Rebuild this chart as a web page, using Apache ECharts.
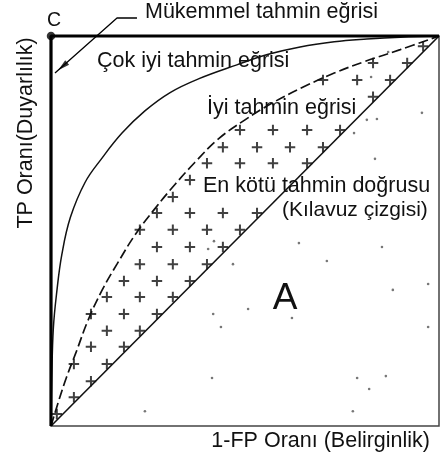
<!DOCTYPE html>
<html>
<head>
<meta charset="utf-8">
<script src="https://cdn.jsdelivr.net/npm/echarts@6/dist/echarts.min.js"></script>
<style>
  html, body { margin: 0; padding: 0; background: #fff; }
  #chart { width: 441px; height: 460px; }
</style>
</head>
<body>
<div id="chart"></div>
<script>
// ROC space: x = 1-FP rate, y = TP rate, both from 0 to 1.
const perfectCurve = [[0, 0], [0, 1], [1, 1]];
const chanceLine = [[0, 0], [1, 1]];

const veryGoodCurve = [
  [0, 0], [0.002, 0.12], [0.006, 0.25], [0.015, 0.345], [0.028, 0.44],
  [0.05, 0.535], [0.088, 0.625], [0.13, 0.685], [0.183, 0.751], [0.242, 0.808],
  [0.307, 0.855], [0.38, 0.89], [0.479, 0.926], [0.56, 0.953], [0.642, 0.972],
  [0.73, 0.985], [0.814, 0.992], [0.9, 0.997], [1, 1]
];

const goodCurve = [
  [0, 0], [0.02, 0.065], [0.04, 0.125], [0.065, 0.19], [0.095, 0.27],
  [0.13, 0.345], [0.17, 0.415], [0.22, 0.495], [0.27, 0.56], [0.32, 0.62],
  [0.37, 0.675], [0.43, 0.735], [0.5, 0.785], [0.57, 0.828], [0.65, 0.869],
  [0.73, 0.905], [0.81, 0.935], [0.9, 0.965], [1, 1]
];

// "+" marks filling the band between the good curve and the chance line
const plusMarks = [
  [0.959, 0.974],
  [0.830, 0.931], [0.918, 0.931],
  [0.701, 0.887], [0.789, 0.887], [0.874, 0.887],
  [0.830, 0.844],
  [0.487, 0.759], [0.572, 0.759], [0.660, 0.759], [0.745, 0.759],
  [0.443, 0.715], [0.531, 0.715], [0.616, 0.715], [0.701, 0.715],
  [0.402, 0.674], [0.487, 0.674], [0.572, 0.674], [0.660, 0.674],
  [0.358, 0.631],
  [0.314, 0.587],
  [0.273, 0.546], [0.358, 0.546], [0.443, 0.546], [0.531, 0.546],
  [0.229, 0.503], [0.314, 0.503], [0.402, 0.503], [0.487, 0.503],
  [0.273, 0.459], [0.358, 0.459], [0.443, 0.459],
  [0.229, 0.415], [0.314, 0.415], [0.402, 0.415],
  [0.188, 0.372], [0.273, 0.372], [0.358, 0.372],
  [0.144, 0.331], [0.229, 0.331], [0.314, 0.331],
  [0.103, 0.287], [0.188, 0.287], [0.273, 0.287],
  [0.144, 0.244], [0.229, 0.244],
  [0.103, 0.203], [0.188, 0.203],
  [0.059, 0.159], [0.144, 0.159],
  [0.103, 0.115],
  [0.059, 0.074],
  [0.015, 0.031]
];

// scattered specks
const specks = [
  [0.869, 0.959], [0.825, 0.895], [0.956, 0.803], [0.814, 0.785], [0.840, 0.787],
  [0.781, 0.751], [0.835, 0.685], [0.420, 0.474], [0.405, 0.454], [0.639, 0.469],
  [0.853, 0.459], [0.469, 0.415], [0.711, 0.423], [0.881, 0.349], [0.972, 0.364],
  [0.418, 0.287], [0.508, 0.300], [0.621, 0.277], [0.438, 0.254], [0.972, 0.254],
  [0.415, 0.123], [0.789, 0.123], [0.863, 0.128], [0.820, 0.095], [0.242, 0.038],
  [0.778, 0.038]
];

// leader line from the "Mükemmel tahmin eğrisi" note to the left edge
const leaderPath = [[0.2216, 1.0462], [0.1701, 1.0462], [0.0103, 0.9051]];
const leaderHead = [[0.030, 0.922]];
const pointC = [[0, 1]];

const FONT = '"Liberation Sans", Arial, Helvetica, sans-serif';
const PLUS = 'path://M4.05,0h1.9v10h-1.9z M0,4.05h10v1.9h-10z';

function label(text, x, y, size, align, rotation) {
  return {
    type: 'text',
    x: x, y: y,
    rotation: rotation || 0,
    silent: true,
    style: {
      text: text,
      fill: '#111',
      fontSize: size,
      fontFamily: FONT,
      align: align || 'left',
      verticalAlign: 'middle',
      textAlign: align || 'left',
      textVerticalAlign: 'middle'
    }
  };
}

const chart = echarts.init(document.getElementById('chart'), null, { renderer: 'canvas' });

chart.setOption({
  animation: false,
  backgroundColor: '#fff',
  grid: {
    left: 51, top: 36, right: 2, bottom: 34,
    show: true, borderColor: '#444', borderWidth: 1.5, backgroundColor: 'transparent'
  },
  xAxis: { type: 'value', min: 0, max: 1, show: false },
  yAxis: { type: 'value', min: 0, max: 1, show: false },
  series: [
    {
      name: 'specks', type: 'scatter', data: specks,
      symbol: 'circle', symbolSize: 2.6,
      itemStyle: { color: '#555' }, silent: true
    },
    {
      name: 'plus', type: 'scatter', data: plusMarks,
      symbol: PLUS, symbolSize: 10.5,
      itemStyle: { color: '#111' }, silent: true
    },
    {
      name: 'chance', type: 'line', data: chanceLine,
      symbol: 'none', lineStyle: { color: '#111', width: 1.6 }, silent: true
    },
    {
      name: 'good', type: 'line', data: goodCurve, smooth: 0.4,
      symbol: 'none', lineStyle: { color: '#111', width: 1.7, type: [10, 4] }, silent: true
    },
    {
      name: 'veryGood', type: 'line', data: veryGoodCurve, smooth: 0.4,
      symbol: 'none', lineStyle: { color: '#111', width: 1.5 }, silent: true
    },
    {
      name: 'perfect', type: 'line', data: perfectCurve, clip: false,
      symbol: 'none', lineStyle: { color: '#000', width: 3.2 }, silent: true
    },
    {
      name: 'C', type: 'scatter', data: pointC, clip: false,
      symbol: 'circle', symbolSize: 8.5, itemStyle: { color: '#000' }, silent: true
    },
    {
      name: 'leader', type: 'line', data: leaderPath, clip: false,
      symbol: 'none', lineStyle: { color: '#000', width: 1.3 }, silent: true
    },
    {
      name: 'leaderHead', type: 'scatter', data: leaderHead, clip: false,
      symbol: 'triangle', symbolSize: [6, 12], symbolRotate: 131,
      itemStyle: { color: '#000' }, silent: true
    }
  ],
  graphic: [
    label('C', 47, 21, 19.5),
    label('Mükemmel tahmin eğrisi', 145, 12, 21.5),
    label('Çok iyi tahmin eğrisi', 97, 61, 21.5),
    label('İyi tahmin eğrisi', 207, 108, 21.5),
    label('En kötü tahmin doğrusu', 203, 186, 21.5),
    label('(Kılavuz çizgisi)', 282, 210, 21),
    label('A', 285, 299, 37, 'center'),
    label('1-FP Oranı (Belirginlik)', 430, 441, 21.5, 'right'),
    label('TP Oranı(Duyarlılık)', 26, 133, 21.5, 'center', Math.PI / 2)
  ]
});
</script>
</body>
</html>
